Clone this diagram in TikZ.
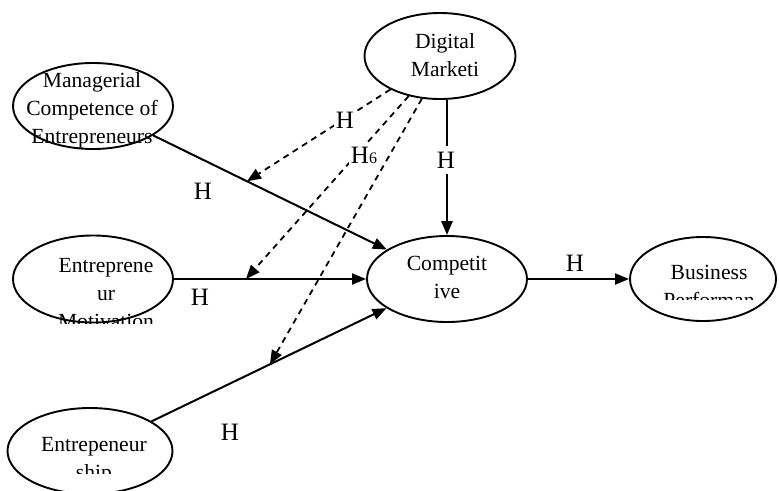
\documentclass[tikz,border=0pt]{standalone}
\usepackage{fontspec}
\setmainfont{Liberation Serif}
\usetikzlibrary{arrows.meta,shapes.geometric}
\newcommand\vfont{\fontsize{21.6}{28}\selectfont}
\newcommand\hfont{\fontsize{25}{28}\selectfont}
\tikzset{
  var/.style  = {draw, ellipse, line width=1.9pt, inner sep=0pt},
  vtxt/.style = {align=center, font=\vfont, inner sep=0pt},
  hyp/.style  = {font=\hfont, inner sep=1.5pt, fill=white},
  wire/.style = {-{Triangle[length=14pt,width=11pt]}, line width=2pt},
  mod/.style  = {wire, line width=1.8pt, dash pattern=on 6pt off 5pt}
}

\begin{document}
\begin{tikzpicture}[x=1pt, y=-1pt]
\useasboundingbox (0,0) rectangle (779,490);

% ---------- constructs ----------
\node[var, minimum width=160pt, minimum height=86pt] (mce) at (93,106) {};
\node[var, minimum width=151pt, minimum height=86pt] (dm)  at (440,56) {};
\node[var, minimum width=160pt, minimum height=87pt] (em)  at (93,279) {};
\node[var, minimum width=165pt, minimum height=86pt] (es)  at (90,451) {};
\node[var, minimum width=160pt, minimum height=86pt] (ca)  at (447,279) {};
\node[var, minimum width=146pt, minimum height=84pt] (bp)  at (703,279) {};

% texts (the boxes cut the last lines)
\node[vtxt] (mce-txt) at (92,110) {Managerial\\Competence of\\Entrepreneurs};
\node[vtxt] (dm-txt)  at (445,55) {Digital\\Marketi};
\node[vtxt] (ca-txt)  at (447,277) {Competit\\ive};
\begin{scope}
  \clip (0,0) rectangle (779,323);
  \node[vtxt] (em-txt) at (106,294) {Entreprene\\ur\\Motivation};
\end{scope}
\begin{scope}
  \clip (0,0) rectangle (779,473);
  \node[vtxt] (es-txt) at (94,461) {Entrepeneur\\ship};
\end{scope}
\begin{scope}
  \clip (0,0) rectangle (779,299);
  \node[vtxt] (bp-txt) at (709,286) {Business\\Performan};
\end{scope}

% ---------- direct paths ----------
\draw[wire] (mce) -- (ca);
\draw[wire] (em) -- (ca);
\draw[wire] (es) -- (ca);
\draw[wire] (ca) -- (bp);
\draw[wire, line width=2.6pt] (dm.south -| ca.north) -- (ca.north);

% ---------- moderating paths ----------
\path (mce.center) -- (ca.center) coordinate[pos=0.435] (t1);
\path (em.center)  -- (ca.center) coordinate[pos=0.432] (t2);
\path (es.center)  -- (ca.center) coordinate[pos=0.504] (t3);
\draw[mod] (dm.214) -- (t1);
\draw[mod] (dm.232) -- (t2);
\draw[mod] (dm.247) -- (t3);

% ---------- hypotheses ----------
\node[hyp] (h1) at (203,191) {H};
\node[hyp] (h2) at (200,297) {H};
\node[hyp] (h3) at (230,432) {H};
\node[hyp] (h4) at (575,263) {H};
\node[hyp, inner ysep=6pt] (h5) at (446,160) {H};
\node[hyp] (h6) at (345,120) {H};
\node[hyp] (h7) at (364,155) {H{\fontsize{16}{18}\selectfont 6}};

\end{tikzpicture}
\end{document}
